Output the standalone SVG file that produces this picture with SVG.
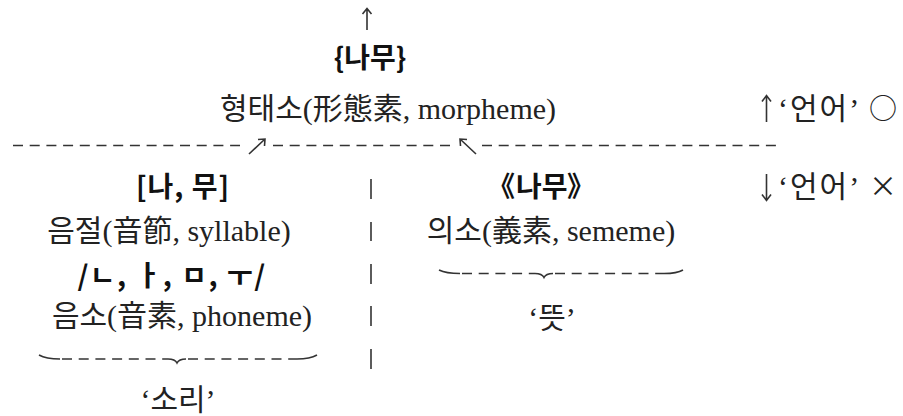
<svg xmlns="http://www.w3.org/2000/svg" width="903" height="416" viewBox="0 0 903 416">
<style>
  .t { font-family: 'Liberation Serif', 'Noto Sans CJK KR', serif; font-size: 30px; fill: #222; }
  .b { font-family: 'Noto Sans CJK KR', 'Liberation Sans', sans-serif; font-size: 28px; font-weight: bold; fill: #111; }
  .s { font-family: 'Noto Sans CJK KR', 'DejaVu Sans', sans-serif; font-size: 28px; fill: #222; }
  .m { text-anchor: middle; }
  .dash { stroke: #333; stroke-width: 1.6; stroke-dasharray: 10 6.7; fill: none; }
  .sol { stroke: #333; stroke-width: 1.6; fill: none; }
</style>
<rect width="903" height="416" fill="#fff"/>
<g id="connectors">
  <line class="dash" x1="13" y1="145.5" x2="240" y2="145.5"/>
  <line class="dash" x1="273" y1="145.5" x2="452" y2="145.5"/>
  <line class="dash" x1="482" y1="145.5" x2="778" y2="145.5"/>
  <path class="sol" d="M249 154 L265 139 M258 139.5 L265 139 L264.5 146"/>
  <path class="sol" d="M476 154 L460 139 M467 139.5 L460 139 L460.5 146"/>
  <path class="sol" d="M367 30 L367 9 M362.5 14 L367 8.5 L371.5 14"/>
  <g class="sol">
    <line x1="371" y1="179" x2="371" y2="199"/>
    <line x1="371" y1="222" x2="371" y2="241"/>
    <line x1="371" y1="264" x2="371" y2="284"/>
    <line x1="371" y1="306" x2="371" y2="326"/>
    <line x1="371" y1="349" x2="371" y2="369"/>
  </g>
  <g id="brace-left">
    <path class="sol" d="M39 355 Q46 359 60 359"/>
    <line class="dash" x1="62" y1="359" x2="168" y2="359"/>
    <path class="sol" d="M168 359 Q175 359 177 363 Q179 359 186 359"/>
    <line class="dash" x1="188" y1="359" x2="297" y2="359"/>
    <path class="sol" d="M297 359 Q310 359 317 355"/>
  </g>
  <g id="brace-right">
    <path class="sol" d="M439 270 Q446 273.5 460 273.5"/>
    <line class="dash" x1="462" y1="273.5" x2="535" y2="273.5"/>
    <path class="sol" d="M535 273.5 Q542 273.5 544 277.5 Q546 273.5 553 273.5"/>
    <line class="dash" x1="555" y1="273.5" x2="664" y2="273.5"/>
    <path class="sol" d="M664 273.5 Q677 273.5 683 270"/>
  </g>
</g>
<g id="morpheme">
  <text class="b m" x="370" y="68">{나무}</text>
  <text class="t m" x="388" y="119">형태소(形態素, morpheme)</text>
</g>
<g id="lang-yes">
  <path class="sol" d="M766.5 122 L766.5 96 M762 101.5 L766.5 95.5 L771 101.5"/>
  <text class="t" x="778" y="119" letter-spacing="2">‘언어’</text>
  <text class="s" x="869" y="119">○</text>
</g>
<g id="syllable">
  <text class="b m" x="183" y="197" letter-spacing="1">[나, 무]</text>
  <text class="t m" x="169" y="241">음절(音節, syllable)</text>
</g>
<g id="phoneme">
  <text class="b m" x="172" y="286" letter-spacing="1.5">/ㄴ, ㅏ, ㅁ, ㅜ/</text>
  <text class="t m" x="182" y="326">음소(音素, phoneme)</text>
</g>
<g id="sound">
  <text class="t m" x="178" y="410">‘소리’</text>
</g>
<g id="sememe">
  <text class="b" x="487" y="197">《</text>
  <text class="b" x="516" y="197" font-size="26">나무</text>
  <text class="b" x="567" y="197">》</text>
  <text class="t m" x="551" y="241">의소(義素, sememe)</text>
</g>
<g id="meaning">
  <text class="t m" x="552" y="328">‘뜻’</text>
</g>
<g id="lang-no">
  <path class="sol" d="M766.5 174 L766.5 200 M762 194.5 L766.5 200.5 L771 194.5"/>
  <text class="t" x="778" y="197" letter-spacing="2">‘언어’</text>
  <text class="s" x="869" y="197">×</text>
</g>
</svg>
